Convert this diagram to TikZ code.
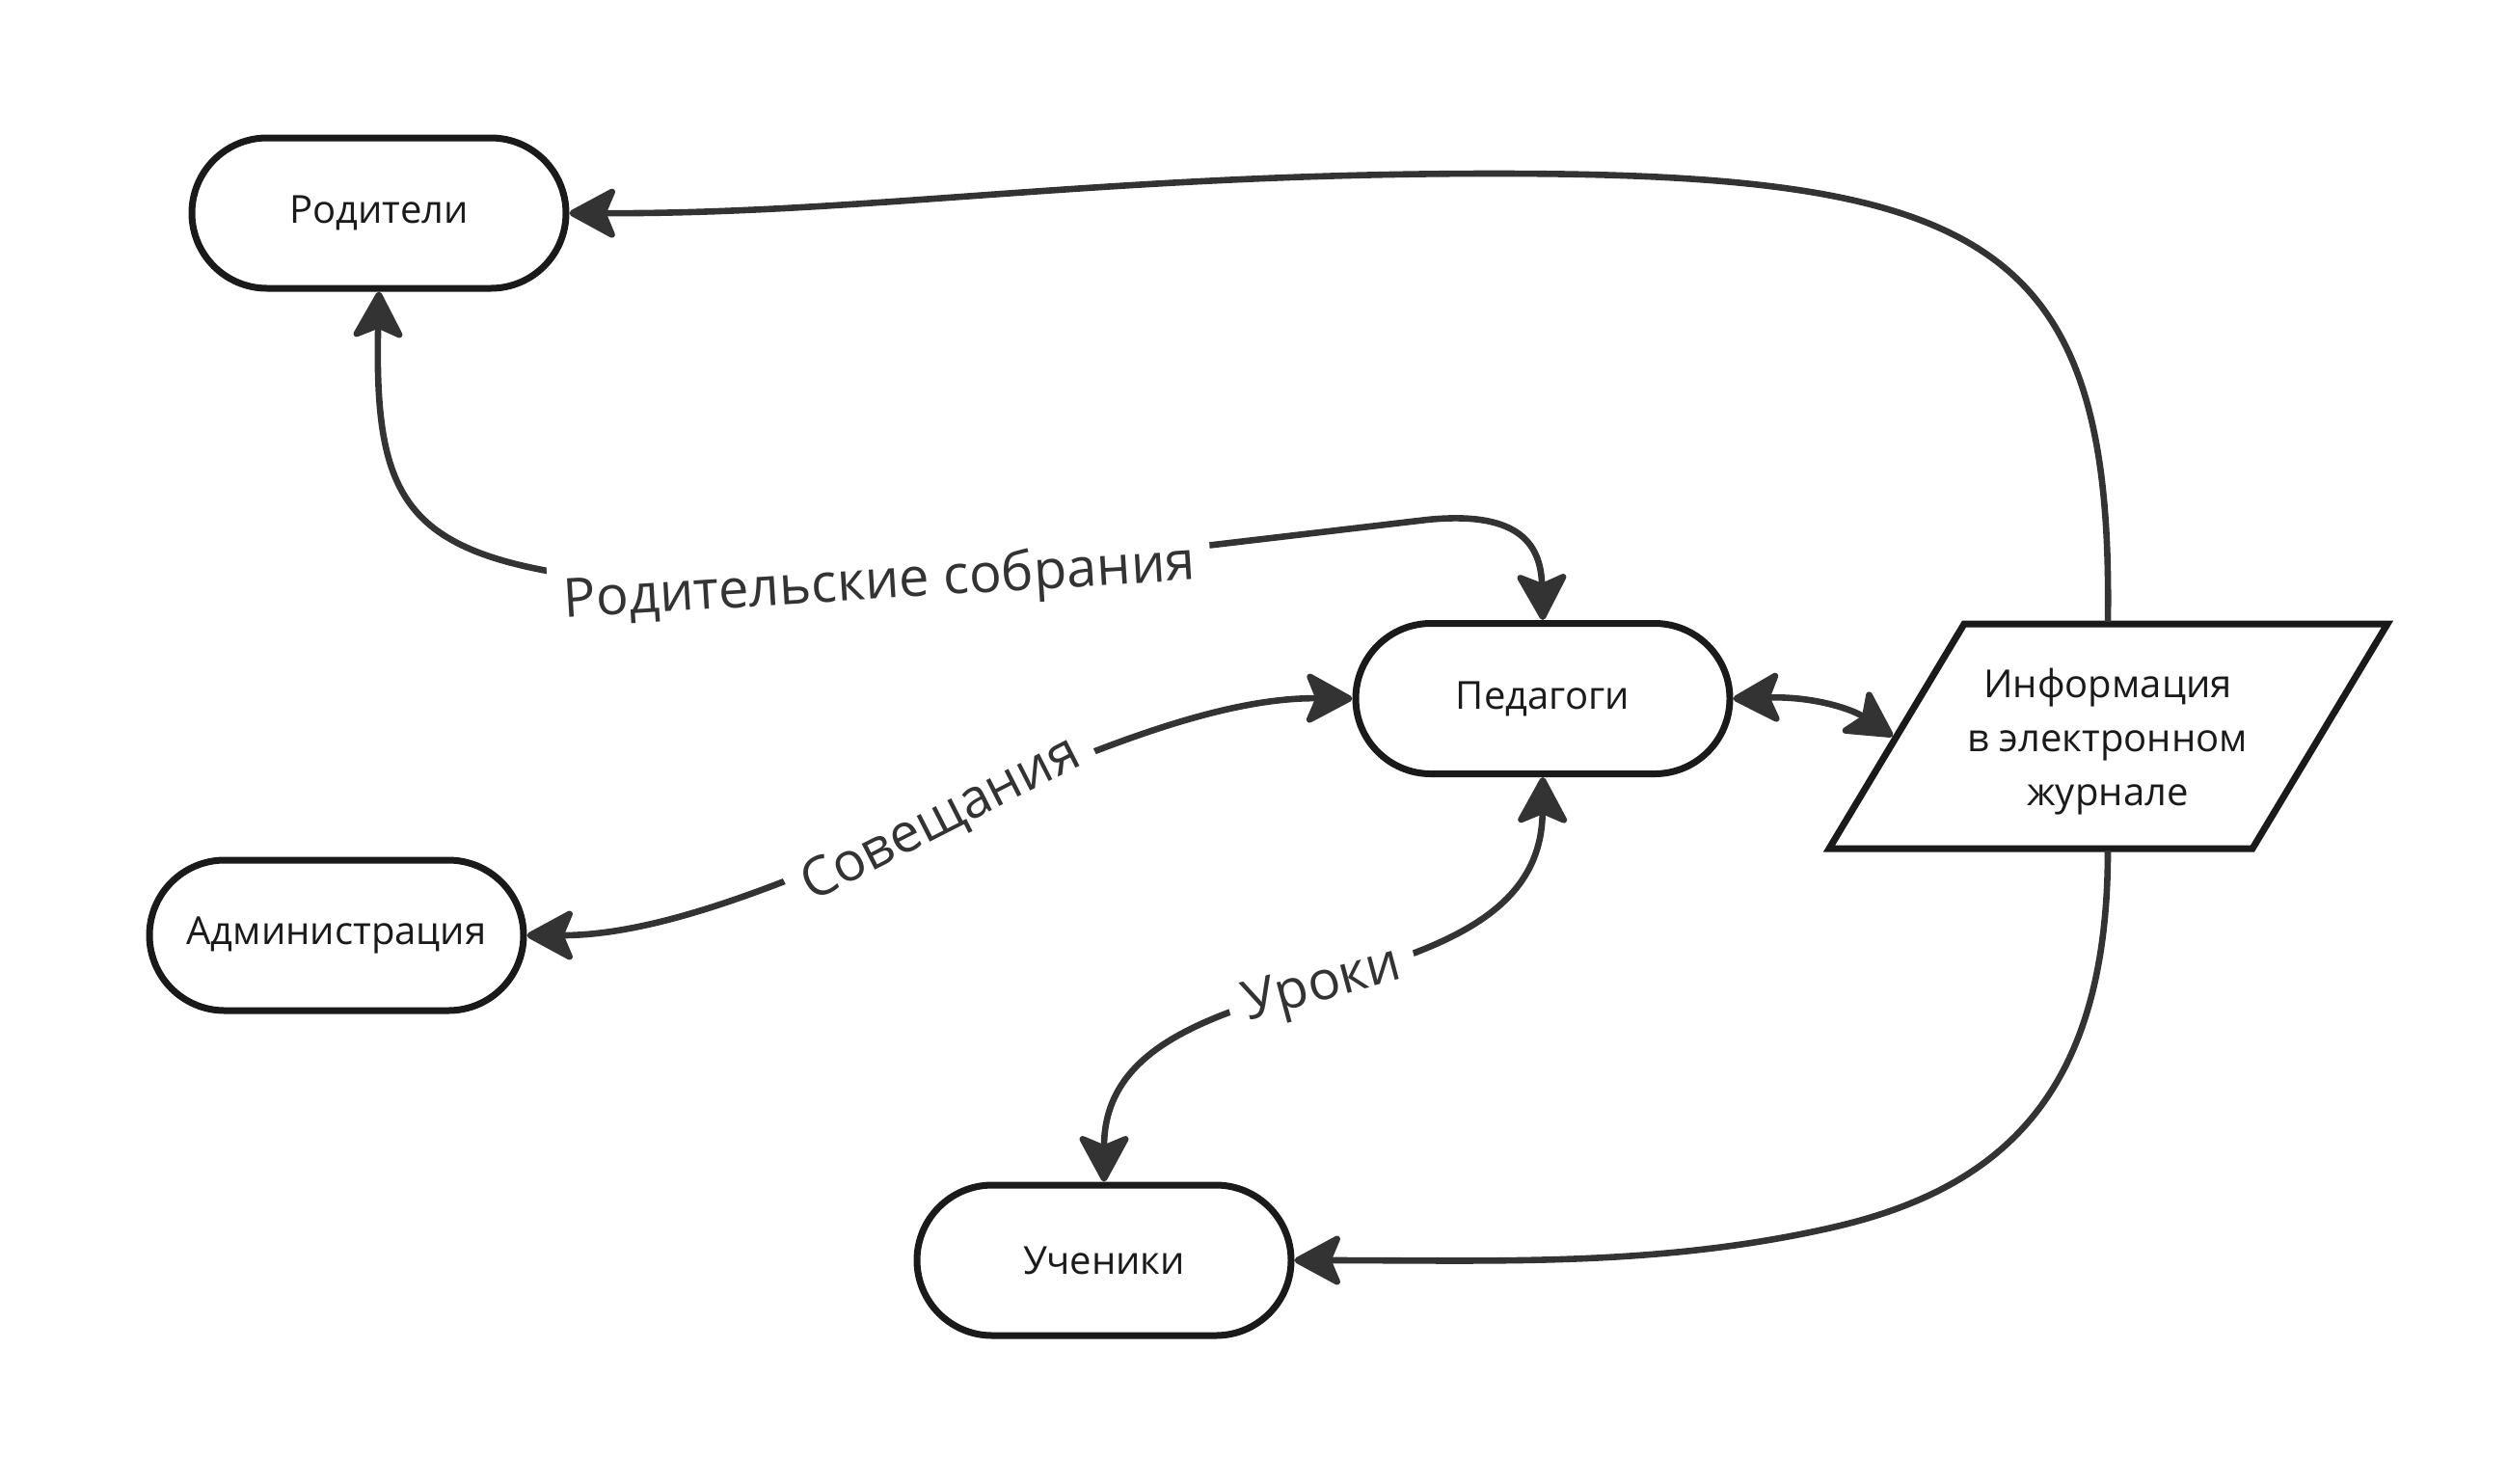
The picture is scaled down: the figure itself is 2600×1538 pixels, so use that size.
\documentclass[tikz,border=0pt]{standalone}
\usepackage{fontspec}
\setmainfont{Open Sans}
\usetikzlibrary{shapes.misc,arrows.meta}
\definecolor{bord}{HTML}{1A1A1A}
\definecolor{edg}{HTML}{333333}
\tikzset{Ar/.tip={Stealth[length=27pt,width=29pt,inset=6pt,round]}}
\begin{document}
\begin{tikzpicture}[x=0.5pt,y=-0.5pt,
  term/.style={rounded rectangle, draw=bord, line width=3.5pt, fill=white,
    minimum width=194pt, minimum height=78pt, inner sep=0pt, text=bord,
    font=\fontsize{20pt}{28pt}\selectfont},
  para/.style={draw=bord, line width=3.5pt, fill=white, line join=miter},
  ptext/.style={text=bord, align=center, inner sep=0pt,
    font=\fontsize{20pt}{28pt}\selectfont},
  link/.style={draw=edg, line width=3.3pt},
  lbl/.style={fill=white, text=edg, inner sep=8pt, text height=20pt, text depth=0pt,
    font=\fontsize{28pt}{34pt}\selectfont}]
\path[use as bounding box] (0,0) rectangle (2600,1538);

% nodes
\node[term] (R) at (393,221) {Родители};
\node[term] (P) at (1600,724.5) {Педагоги};
\node[term] (A) at (349,970) {Администрация};
\node[term] (U) at (1145,1307) {Ученики};
\path[para] (2037,647) -- (2476,647) -- (2336,880) -- (1897,880) -- cycle;
\node[ptext] (I) at (2186,769) {Информация\\в электронном\\журнале};
\coordinate (Itop) at (2186,645);
\coordinate (Ibot) at (2186,882);
\coordinate (Iwest) at (1963,763.5);

% connectors
\draw[link, -Ar] (Itop) .. controls (2192,250) and (2060,180) .. (1550,180)
  .. controls (1150,180) and (900,222) .. (R.east);
\draw[link, -Ar] (Ibot) .. controls (2186,1130) and (2080,1232) .. (1900,1273)
  .. controls (1720,1314) and (1550,1307) .. (U.east);
\draw[link, Ar-Ar] (P.east) .. controls (1880,722) and (1920,735) .. (Iwest);
\draw[link, Ar-Ar] (R.south) .. controls (388,520) and (420,575) .. (620,600)
  -- (1250,566) -- (1480,539) .. controls (1570,530) and (1598,560) .. (P.north);
\draw[link, Ar-Ar] (A.east) .. controls (800,970) and (1150,722) .. (P.west);
\draw[link, Ar-Ar] (P.south) .. controls (1598,1060) and (1145,980) .. (U.north);

% labels
\node[lbl, rotate=3.5] (Lrs) at (912,601) {Родительские собрания};
\node[lbl, rotate=27] (Lsov) at (974,846) {Совещания};
\node[lbl, rotate=15] (Lur) at (1370,1017) {Уроки};
\end{tikzpicture}
\end{document}
